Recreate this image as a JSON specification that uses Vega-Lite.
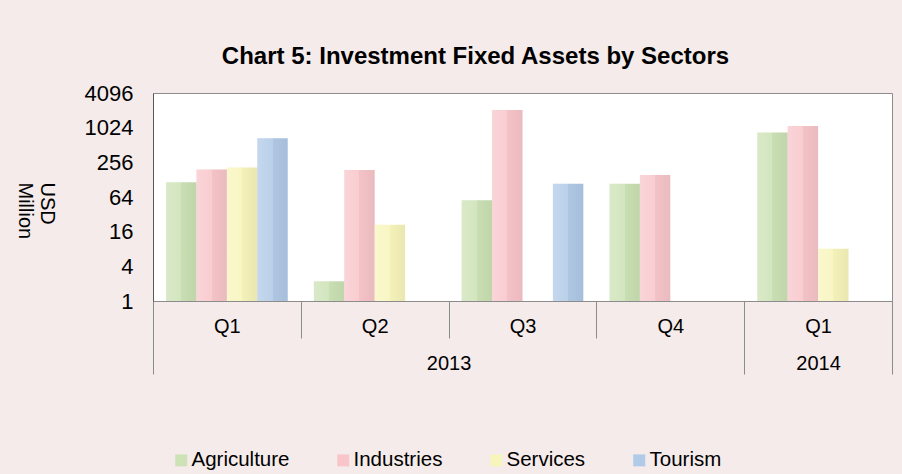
{
  "$schema": "https://vega.github.io/schema/vega-lite/v6.json",
  "width": 739,
  "height": 208,
  "autosize": {"type": "none"},
  "padding": {"left": 153, "top": 93, "right": 10, "bottom": 173},
  "background": "#F5EBEB",
  "title": {
    "text": "Chart 5: Investment Fixed Assets by Sectors",
    "font": "Liberation Sans",
    "fontSize": 24,
    "fontWeight": "bold",
    "color": "#000000",
    "anchor": "middle",
    "frame": "group",
    "dx": -47,
    "offset": 13
  },
  "config": {
    "view": {"fill": "#FFFFFF", "stroke": "#8C8C8C", "strokeWidth": 1},
    "font": "Liberation Sans"
  },
  "data": {
    "values": [
      {"period": "2013 Q1", "sector": "Agriculture", "value": 115},
      {"period": "2013 Q1", "sector": "Industries", "value": 193},
      {"period": "2013 Q1", "sector": "Services", "value": 209},
      {"period": "2013 Q1", "sector": "Tourism", "value": 671},
      {"period": "2013 Q2", "sector": "Agriculture", "value": 2.2},
      {"period": "2013 Q2", "sector": "Industries", "value": 188},
      {"period": "2013 Q2", "sector": "Services", "value": 21},
      {"period": "2013 Q3", "sector": "Agriculture", "value": 56},
      {"period": "2013 Q3", "sector": "Industries", "value": 2070},
      {"period": "2013 Q3", "sector": "Tourism", "value": 109},
      {"period": "2013 Q4", "sector": "Agriculture", "value": 109},
      {"period": "2013 Q4", "sector": "Industries", "value": 154},
      {"period": "2014 Q1", "sector": "Agriculture", "value": 844},
      {"period": "2014 Q1", "sector": "Industries", "value": 1100},
      {"period": "2014 Q1", "sector": "Services", "value": 8.1}
    ]
  },
  "layer": [
    {
      "layer": [
        {
          "mark": {"type": "bar"},
          "encoding": {
            "x": {
              "field": "period",
              "type": "nominal",
              "sort": ["2013 Q1", "2013 Q2", "2013 Q3", "2013 Q4", "2014 Q1"],
              "scale": {"paddingInner": 0, "paddingOuter": 0},
              "axis": {
                "orient": "bottom",
                "title": null,
                "labelExpr": "split(datum.label, ' ')[1]",
                "tickBand": "extent",
                "tickSize": 37,
                "tickColor": "#8C8C8C",
                "domainColor": "#8C8C8C",
                "labelFontSize": 20,
                "labelColor": "#000000",
                "labelPadding": -12,
                "labelBaseline": "middle",
                "labelAngle": 0
              }
            },
            "xOffset": {
              "field": "sector",
              "type": "nominal",
              "sort": ["Agriculture", "Industries", "Services", "Tourism"],
              "scale": {"paddingInner": 0, "paddingOuter": 0.43}
            },
            "y": {
              "field": "value",
              "type": "quantitative",
              "scale": {"type": "log", "base": 2, "domain": [1, 4096], "nice": false},
              "axis": {
                "title": ["USD", "Million"],
                "values": [1, 4, 16, 64, 256, 1024, 4096],
                "format": "d",
                "ticks": false,
                "grid": false,
                "labelPadding": 20,
                "labelFontSize": 22,
                "labelColor": "#000000",
                "domainColor": "#595959",
                "titleAngle": 90,
                "titleAlign": "left",
                "titleBaseline": "top",
                "titleX": -97,
                "titleY": 89,
                "titleFontSize": 20,
                "titleFontWeight": "normal",
                "titleColor": "#000000",
                "titleLineHeight": 22
              }
            },
            "y2": {"datum": 1},
            "color": {
              "field": "sector",
              "type": "nominal",
              "scale": {
                "domain": ["Agriculture", "Industries", "Services", "Tourism"],
                "range": ["#CDE2B6", "#F8C6CA", "#F8F5BC", "#B1CAE7"]
              },
              "legend": {
                "title": null,
                "orient": "none",
                "legendX": 18,
                "legendY": 357,
                "direction": "horizontal",
                "symbolType": "square",
                "symbolSize": 144,
                "symbolStrokeWidth": 0,
                "labelFontSize": 20.5,
                "labelColor": "#000000",
                "labelOffset": 0,
                "columnPadding": 43
              }
            }
          }
        },
        {
          "mark": {
            "type": "bar",
            "color": {
              "gradient": "linear",
              "x1": 0, "x2": 1, "y1": 0, "y2": 0,
              "stops": [
                {"offset": 0, "color": "rgba(255,255,255,0.25)"},
                {"offset": 0.5, "color": "rgba(255,255,255,0.12)"},
                {"offset": 0.5, "color": "rgba(0,0,0,0.02)"},
                {"offset": 1, "color": "rgba(0,0,0,0.06)"}
              ]
            }
          },
          "encoding": {
            "x": {"field": "period", "type": "nominal", "sort": ["2013 Q1", "2013 Q2", "2013 Q3", "2013 Q4", "2014 Q1"]},
            "xOffset": {"field": "sector", "type": "nominal", "sort": ["Agriculture", "Industries", "Services", "Tourism"]},
            "y": {"field": "value", "type": "quantitative"},
            "y2": {"datum": 1}
          }
        }
      ]
    },
    {
      "mark": {"type": "rule", "opacity": 0},
      "encoding": {
        "x": {
          "datum": 0,
          "type": "quantitative",
          "scale": {"domain": [0, 5], "nice": false, "zero": false},
          "axis": {
            "orient": "bottom",
            "title": null,
            "values": [0, 2, 4, 4.5, 5],
            "labelExpr": "datum.value == 2 ? '2013' : datum.value == 4.5 ? '2014' : ''",
            "tickSize": 73,
            "tickOpacity": {"condition": {"test": "datum.value == 2 || datum.value == 4.5", "value": 0}, "value": 1},
            "tickColor": "#8C8C8C",
            "domain": false,
            "grid": false,
            "labelFontSize": 20,
            "labelColor": "#000000",
            "labelPadding": -11,
            "labelBaseline": "middle",
            "labelFlush": false,
            "labelOverlap": false
          }
        }
      }
    }
  ],
  "resolve": {"scale": {"x": "independent"}, "axis": {"x": "independent"}}
}
